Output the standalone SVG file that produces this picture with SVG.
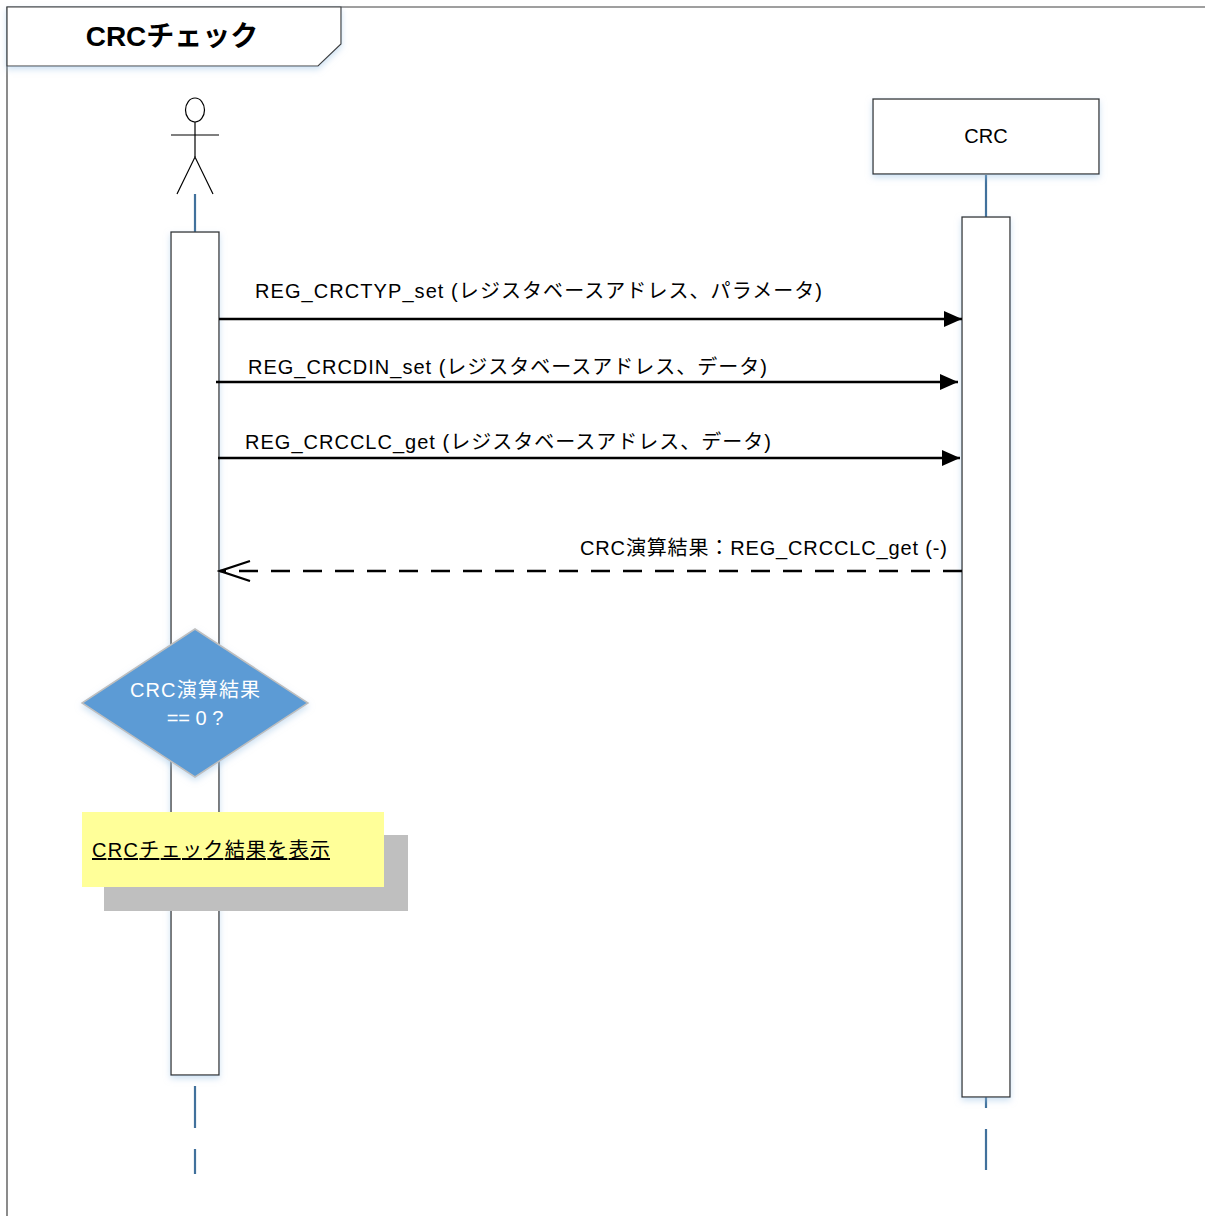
<svg xmlns="http://www.w3.org/2000/svg" width="1205" height="1216" viewBox="0 0 1205 1216">
<style>
.t{font-family:"Liberation Sans","Noto Sans CJK JP",sans-serif;font-size:20px;fill:#000}
.frame{fill:none;stroke:#404040;stroke-width:1.2}
.box{fill:#fff;stroke:#333;stroke-width:1.3}
.life{stroke:#41719C;stroke-width:2.2;fill:none}
.msg{stroke:#000;stroke-width:2.4;fill:none}
.ret{stroke:#000;stroke-width:2.4;fill:none;stroke-dasharray:19 13}
</style>
<defs>
<filter id="glow" x="-20%" y="-20%" width="140%" height="140%">
<feDropShadow dx="0" dy="3" stdDeviation="3" flood-color="#9DC3E6" flood-opacity="0.5"/>
</filter>
<marker id="fill" markerWidth="20" markerHeight="18" refX="18" refY="8" orient="auto" markerUnits="userSpaceOnUse">
<path d="M0,0 L18,8 L0,16 Z" fill="#000"/>
</marker>
<marker id="open" markerWidth="34" markerHeight="24" refX="31" refY="11" orient="auto" markerUnits="userSpaceOnUse">
<path d="M1,1 L31,11 L1,21" fill="none" stroke="#000" stroke-width="2.2"/>
</marker>
</defs>
<rect width="1205" height="1216" fill="#fff"/>
<g id="frame">
<path class="frame" d="M7,1216 L7,7 L1205,7"/>
<path d="M7,7 L341,7 L341,44 L318,66 L7,66 Z" fill="#fff" stroke="#404040" stroke-width="1.2" filter="url(#glow)"/>
<text x="172" y="46" text-anchor="middle" class="t" style="font-size:28px;font-weight:bold">CRCチェック</text>
</g>
<g id="lifelines">
<line class="life" x1="195" y1="194" x2="195" y2="232"/>
<line class="life" x1="195" y1="1086" x2="195" y2="1128"/>
<line class="life" x1="195" y1="1149" x2="195" y2="1174"/>
<line class="life" x1="986" y1="175" x2="986" y2="217"/>
<line class="life" x1="986" y1="1097" x2="986" y2="1108"/>
<line class="life" x1="986" y1="1129" x2="986" y2="1170"/>
</g>
<g id="actor" fill="none" stroke="#000" stroke-width="1.2">
<ellipse cx="195" cy="110" rx="9.5" ry="12" fill="#fff"/>
<line x1="171" y1="135" x2="219" y2="135"/>
<line x1="195" y1="122" x2="195" y2="157"/>
<path d="M177,194 L195,157 L213,194"/>
</g>
<g id="crc">
<rect class="box" x="873" y="99" width="226" height="75" filter="url(#glow)"/>
<text x="986" y="143" text-anchor="middle" class="t">CRC</text>
</g>
<g id="act-user">
<rect class="box" x="171" y="232" width="48" height="843" filter="url(#glow)"/>
</g>
<g id="act-crc">
<rect class="box" x="962" y="217" width="48" height="880" filter="url(#glow)"/>
</g>
<g id="connectors">
<line class="msg" x1="219" y1="319" x2="962" y2="319" marker-end="url(#fill)"/>
<line class="msg" x1="216" y1="382" x2="958" y2="382" marker-end="url(#fill)"/>
<line class="msg" x1="218" y1="458" x2="960" y2="458" marker-end="url(#fill)"/>
<line class="ret" x1="962" y1="571" x2="220" y2="571" marker-end="url(#open)"/>
</g>
<g id="labels">
<text x="255" y="298" class="t" textLength="567" lengthAdjust="spacing">REG_CRCTYP_set (レジスタベースアドレス、パラメータ)</text>
<text x="248" y="374" class="t" textLength="519" lengthAdjust="spacing">REG_CRCDIN_set (レジスタベースアドレス、データ)</text>
<text x="245" y="449" class="t" textLength="526" lengthAdjust="spacing">REG_CRCCLC_get (レジスタベースアドレス、データ)</text>
<text x="580" y="555" class="t" textLength="367" lengthAdjust="spacing">CRC演算結果：REG_CRCCLC_get (-)</text>
</g>
<g id="decision">
<path d="M195,629 L308,703 L195,777 L82,703 Z" fill="#5B9BD5" stroke="#BFBFBF" stroke-width="1.5" filter="url(#glow)"/>
<text x="130" y="697" class="t" style="fill:#fff" textLength="130" lengthAdjust="spacing">CRC演算結果</text>
<text x="195" y="725" text-anchor="middle" class="t" style="fill:#fff">== 0 ?</text>
</g>
<g id="note">
<rect x="104" y="835" width="304" height="76" fill="#BFBFBF"/>
<rect x="82" y="812" width="302" height="75" fill="#FFFF99"/>
<text x="92" y="857" class="t" text-decoration="underline" textLength="238" lengthAdjust="spacing">CRCチェック結果を表示</text>
</g>
</svg>
